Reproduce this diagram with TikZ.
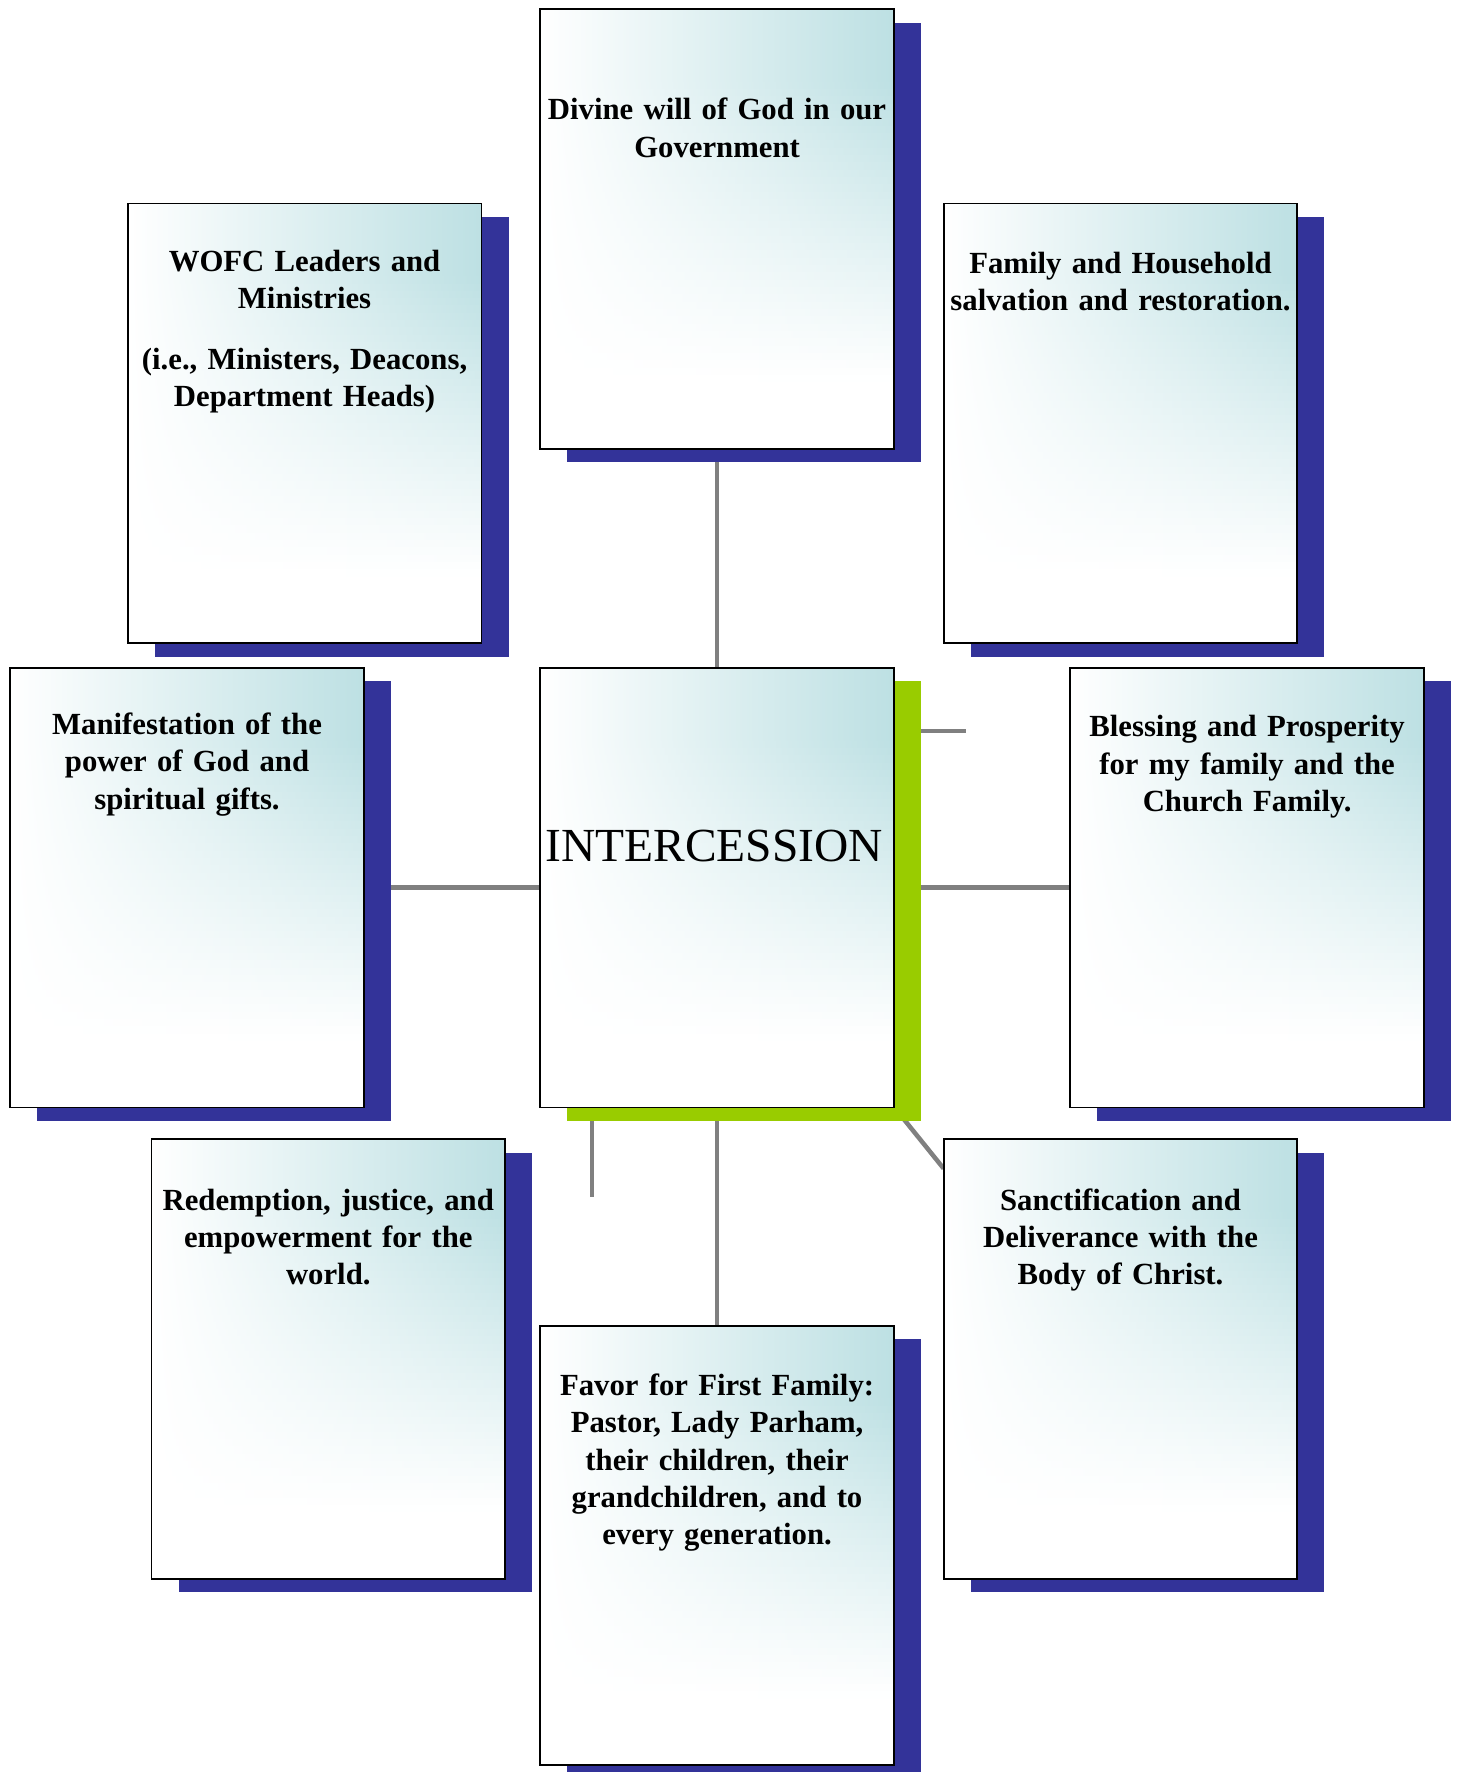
\documentclass[tikz,border=0pt]{standalone}
\usepackage{fontspec}
\setmainfont{Liberation Serif}
\usetikzlibrary{calc}
\definecolor{tealc}{RGB}{189,224,227}
\definecolor{shblue}{RGB}{51,51,153}
\definecolor{shgreen}{RGB}{153,204,0}
\definecolor{connc}{RGB}{128,128,128}
\newcommand\paintcard[2]{%
  \fill[#2] ($(#1.north west)+(24,12)$) rectangle ($(#1.south east)+(24,12)$);
  \fill[white] (#1.north west) rectangle (#1.south east);
  \foreach \i in {0,...,59}{%
    \pgfmathsetmacro\vv{max(0,min(1,(0.85-(\i+0.5)/60)/0.68))*100}%
    \pgfmathsetmacro\vm{\vv*0.45}%
    \pgfmathsetmacro\ya{\i*6.48333}%
    \pgfmathsetmacro\yb{min(389,\ya+7.3)}%
    \shade[left color=white, middle color=tealc!\vm!white, right color=tealc!\vv!white]
      ($(#1.north west)+(0,\ya)$) rectangle ($(#1.north east)+(0,\yb)$);
  }
  \draw[line width=0.8pt] (#1.north west) rectangle (#1.south east);
}
\begin{document}
\begin{tikzpicture}[x=0.5pt,y=-0.5pt,
  cardnode/.style={minimum width=156.5pt, minimum height=194.5pt, inner sep=0pt, outer sep=0pt, anchor=north west},
  conn/.style={draw=connc, line width=2pt},
  txt/.style={font=\fontsize{13.6}{16.5}\selectfont\bfseries, align=center, text width=160pt, inner sep=0pt, anchor=base}]
\useasboundingbox (0,0) rectangle (1290,1568);
% card placeholders
\node[cardnode] (div)  at (478,8) {};
\node[cardnode] (wofc) at (113,180) {};
\node[cardnode] (fam)  at (835,180) {};
\node[cardnode] (man)  at (9,591) {};
\node[cardnode] (cen)  at (478,591) {};
\node[cardnode] (bles) at (947,591) {};
\node[cardnode] (red)  at (134,1008) {};
\node[cardnode] (sanc) at (835,1008) {};
\node[cardnode] (fav)  at (478,1173) {};
\coordinate (famstub) at (855,647);
\coordinate (redstub) at (524,1059);
\coordinate (sancend) at ($(sanc.north west)+(0,26)$);
% connectors
\draw[conn] (cen.north) -- (div.south);
\draw[conn] (cen.west) -- (man.east);
\draw[conn] (cen.east) -- (bles.west);
\draw[conn] (cen.south) -- (fav.north);
\draw[conn] (cen.center) -- (sancend);
\draw[conn] (cen.center |- famstub) -- (famstub);
\draw[conn] (redstub |- cen.center) -- (redstub);
% cards
\paintcard{div}{shblue}
\paintcard{wofc}{shblue}
\paintcard{fam}{shblue}
\paintcard{man}{shblue}
\paintcard{cen}{shgreen}
\paintcard{bles}{shblue}
\paintcard{red}{shblue}
\paintcard{sanc}{shblue}
\paintcard{fav}{shblue}
% texts
\node[txt] (tdiv) at (634.5,106) {Divine will of God in our\\Government};
\node[txt] (twofc) at (269.5,240) {WOFC Leaders and\\Ministries\\[10.5pt](i.e., Ministers, Deacons,\\Department Heads)};
\node[txt] (tfam) at (991.5,242) {Family and Household\\salvation and restoration.};
\node[txt] (tman) at (165.5,650) {Manifestation of the\\power of God and\\spiritual gifts.};
\node[font=\fontsize{21}{25}\selectfont, inner sep=0pt, anchor=base] (tcen) at (632,762) {INTERCESSION};
\node[txt] (tbles) at (1103.5,652) {Blessing and Prosperity\\for my family and the\\Church Family.};
\node[txt] (tred) at (290.5,1071) {Redemption, justice, and\\empowerment for the\\world.};
\node[txt] (tsanc) at (991.5,1071) {Sanctification and\\Deliverance with the\\Body of Christ.};
\node[txt] (tfav) at (634.5,1235) {Favor for First Family:\\Pastor, Lady Parham,\\their children, their\\grandchildren, and to\\every generation.};
\end{tikzpicture}
\end{document}
